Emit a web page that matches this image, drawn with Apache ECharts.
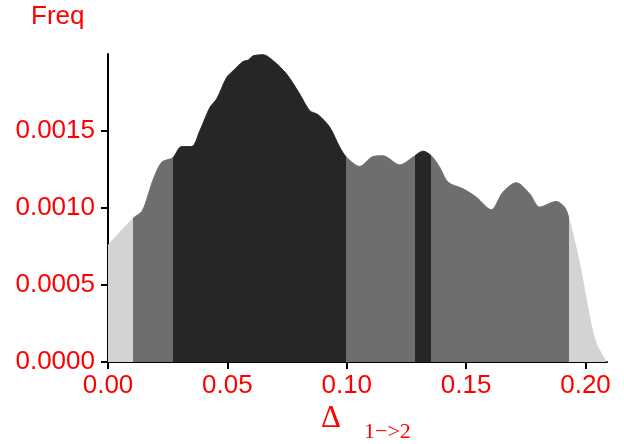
<!DOCTYPE html>
<html>
<head>
<meta charset="utf-8">
<script src="https://cdn.jsdelivr.net/npm/echarts@6/dist/echarts.min.js"></script>
<style>
  html, body { margin: 0; padding: 0; background: #fff; }
  #chart { width: 624px; height: 444px; }
</style>
</head>
<body>
<div id="chart"></div>
<script>
// density curve
var xs = [0.0000, 0.0106, 0.0142, 0.0167, 0.0188, 0.0225, 0.0271, 0.0308, 0.0350, 0.0385,
          0.0427, 0.0455, 0.0497, 0.0524, 0.0566, 0.0587, 0.0608, 0.0650, 0.0692, 0.0748,
          0.0803, 0.0845, 0.0880, 0.0929, 0.0971, 0.0999, 0.1054, 0.1110, 0.1152, 0.1222,
          0.1277, 0.1319, 0.1354, 0.1389, 0.1424, 0.1487, 0.1543, 0.1605, 0.1654, 0.1710,
          0.1766, 0.1808, 0.1877, 0.1912, 0.1929, 0.1975, 0.2017, 0.2045, 0.2087];
var freq = [0.000758, 0.000935, 0.000978, 0.00108, 0.00118, 0.001297, 0.001326, 0.001399, 0.001399, 0.001503,
            0.001654, 0.001708, 0.001848, 0.001891, 0.001952, 0.00196, 0.001988, 0.001995, 0.001956, 0.00187,
            0.00174, 0.001632, 0.001606, 0.001524, 0.001394, 0.00133, 0.00127, 0.001334, 0.001339, 0.00128,
            0.00133, 0.001369, 0.00134, 0.001265, 0.001168, 0.001125, 0.00107, 0.000989, 0.001103, 0.001164,
            0.001093, 0.001006, 0.001043, 0.001006, 0.000941, 0.000639, 0.000293, 0.000121, 0.0000];

// shaded bands along x
var bandEdges = [0.0106, 0.0271, 0.0995, 0.1285, 0.1354, 0.1929];
var bandColors = ['#d3d3d3', '#6e6e6e', '#262626', '#6e6e6e', '#262626', '#6e6e6e', '#d3d3d3'];

var xTicks = [0, 0.05, 0.10, 0.15, 0.20];
var yTicks = [0, 0.0005, 0.0010, 0.0015];

var points = [];
for (var i = 0; i < xs.length; i++) {
    points.push([xs[i], freq[i]]);
}

var pieces = [];
for (var j = 0; j < bandColors.length; j++) {
    var p = { color: bandColors[j] };
    if (j > 0) p.gte = bandEdges[j - 1];
    if (j < bandEdges.length) p.lt = bandEdges[j];
    pieces.push(p);
}

var myChart = echarts.init(document.getElementById('chart'));
myChart.setOption({
    animation: false,
    grid: { left: 108, right: 17, top: 54, bottom: 82 },
    visualMap: {
        show: false,
        type: 'piecewise',
        dimension: 0,
        seriesIndex: 0,
        pieces: pieces
    },
    xAxis: {
        type: 'value',
        min: 0,
        max: 0.209,
        splitLine: { show: false },
        axisLine: { lineStyle: { color: '#000', width: 2 } },
        axisTick: { length: 7, lineStyle: { color: '#000', width: 2 }, customValues: xTicks },
        axisLabel: {
            customValues: xTicks,
            color: '#ff0000',
            fontSize: 26,
            fontFamily: 'Liberation Sans',
            margin: 11,
            formatter: function (v) { return v.toFixed(2); }
        }
    },
    yAxis: {
        type: 'value',
        min: 0,
        max: 0.002,
        splitLine: { show: false },
        axisLine: { show: true, lineStyle: { color: '#000', width: 2 } },
        axisTick: { show: true, length: 7, lineStyle: { color: '#000', width: 2 }, customValues: yTicks },
        axisLabel: {
            customValues: yTicks,
            color: '#ff0000',
            fontSize: 26,
            fontFamily: 'Liberation Sans',
            margin: 13,
            formatter: function (v) { return v.toFixed(4); }
        }
    },
    graphic: [
        { type: 'text', left: 31, top: 4,
          style: { text: 'Freq', fill: '#ff0000', font: '26px "Liberation Sans"' } },
        { type: 'text', left: 321, top: 403,
          style: { text: 'Δ', fill: '#ff0000', font: '31px "Liberation Serif"' } },
        { type: 'text', left: 364, top: 421,
          style: { text: '1−>2', fill: '#ff0000', font: '22px "Liberation Serif"' } }
    ],
    series: [{
        type: 'line',
        data: points,
        smooth: 0.3,
        symbol: 'none',
        lineStyle: { width: 1 },
        areaStyle: { opacity: 1 }
    }]
});
</script>
</body>
</html>
